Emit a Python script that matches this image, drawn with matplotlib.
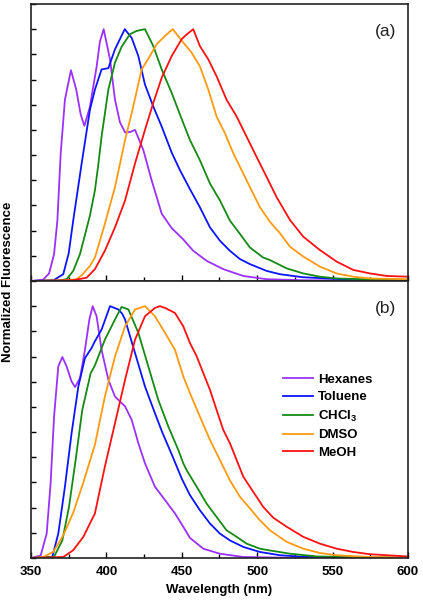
import matplotlib
matplotlib.use("Agg")
import matplotlib.pyplot as plt
from matplotlib.ticker import MultipleLocator

plt.rcParams['font.family'] = ['Liberation Sans', 'DejaVu Sans']
plt.rcParams['mathtext.fontset'] = 'custom'
plt.rcParams['mathtext.rm'] = 'Liberation Sans:bold'
plt.rcParams['mathtext.bf'] = 'Liberation Sans:bold'

labels = ['Hexanes', 'Toluene', 'CHCl$_{3}$', 'DMSO', 'MeOH']
colors = ['#9b30ff', '#0a14ff', '#148a14', '#ff9a10', '#ff1010']

# ---- panel (a) ----
hex_a_wl = [350, 358, 362, 365.3, 367.5, 369.7, 372.5, 376.5, 380, 383, 385.4, 389, 393.5, 395.7, 398.2, 402.4,
            405.7, 409, 412.4, 416, 419, 424.5, 430, 436.7, 443.3, 451, 457.6, 466.5, 477.5, 490.8,
            506.3, 530, 560, 600]
hex_a = [0, 0.005, 0.03, 0.107, 0.24, 0.507, 0.72, 0.837, 0.76, 0.66, 0.616, 0.69, 0.85, 0.95, 1.0, 0.88,
         0.72, 0.63, 0.59, 0.592, 0.6, 0.52, 0.40, 0.267, 0.21, 0.165, 0.12, 0.08, 0.047, 0.02,
         0.007, 0.003, 0.002, 0.002]

tol_a_wl = [350, 365, 371.4, 375, 378, 383.6, 389.1, 392.4, 396.8, 401.3, 405.7, 412.2, 416.8, 421.2, 425.6,
            431.1, 436.7, 443.3, 448.8, 455.4, 462, 468.7, 475.3, 481.9, 488.6, 495.2, 506.3, 515.1, 530, 560, 600]
tol_a = [0, 0.003, 0.027, 0.11, 0.24, 0.467, 0.68, 0.76, 0.84, 0.845, 0.92, 1.0, 0.965, 0.893, 0.78,
         0.693, 0.613, 0.51, 0.44, 0.365, 0.293, 0.213, 0.16, 0.12, 0.087, 0.067, 0.04, 0.027, 0.015, 0.006, 0.003]

chl_a_wl = [350, 368, 373.6, 378, 382.5, 389.1, 392.4, 394.6, 396.8, 401.3, 405.7, 410.1, 415.6, 420.1, 425.6,
            431.1, 436.7, 443.3, 451, 455.4, 462, 468.7, 475.3, 481.9, 488.6, 495.2, 504, 508.5, 519.6, 530.6,
            541.6, 552.7, 575, 600]
chl_a = [0, 0.002, 0.007, 0.04, 0.107, 0.26, 0.36, 0.46, 0.573, 0.76, 0.867, 0.93, 0.98, 0.993, 1.0,
         0.933, 0.84, 0.747, 0.627, 0.56, 0.48, 0.387, 0.32, 0.24, 0.187, 0.133, 0.093, 0.083, 0.05, 0.03,
         0.017, 0.01, 0.006, 0.004]

dmso_a_wl = [350, 372, 380.3, 384, 389.1, 392.4, 399, 405.7, 412.4, 416.8, 423.4, 428.9, 433.3, 438.9, 444,
             451, 456.5, 462, 467.6, 473.1, 478.6, 484.2, 489.7, 495.2, 501.8, 508.5, 515.1, 521.8, 530.6,
             541.6, 552.7, 563.7, 574.8, 600]
dmso_a = [0, 0.002, 0.007, 0.025, 0.06, 0.093, 0.227, 0.373, 0.56, 0.667, 0.84, 0.893, 0.94, 0.973, 1.0,
          0.947, 0.907, 0.853, 0.76, 0.653, 0.587, 0.507, 0.44, 0.373, 0.293, 0.235, 0.19, 0.136, 0.097,
          0.057, 0.03, 0.017, 0.01, 0.007]

meoh_a_wl = [350, 378, 386.9, 392.4, 399, 405.7, 412.4, 419, 425.6, 431.1, 436.7, 443.3, 449.9, 452.5, 457.6,
             462, 467.6, 473.1, 479.7, 486.4, 493, 499.6, 506.3, 512.9, 521.8, 530.6, 541.6, 552.7, 563.7,
             574.8, 585.8, 600]
meoh_a = [0, 0.003, 0.013, 0.047, 0.12, 0.213, 0.32, 0.467, 0.6, 0.707, 0.807, 0.893, 0.96, 0.975, 1.0,
          0.933, 0.88, 0.813, 0.72, 0.653, 0.573, 0.493, 0.413, 0.333, 0.242, 0.176, 0.123, 0.077, 0.044,
          0.03, 0.02, 0.017]

# ---- panel (b) ----
hex_b_wl = [350, 356.4, 360.4, 363, 365.3, 368.1, 370.8, 373.6, 376.9, 379.2, 382.5, 385.8, 388.7, 390.9,
            393.5, 396.8, 401.3, 405.7, 412.4, 416.8, 421.2, 425.6, 432.2, 438.9, 445.5, 451, 455.4, 464.3,
            475.3, 490.8, 520, 600]
hex_b = [0, 0.01, 0.097, 0.296, 0.562, 0.761, 0.798, 0.761, 0.701, 0.679, 0.714, 0.827, 0.947, 1.0,
         0.96, 0.827, 0.708, 0.641, 0.602, 0.548, 0.456, 0.376, 0.283, 0.23, 0.177, 0.124, 0.08, 0.037,
         0.017, 0.004, 0.001, 0]

tol_b_wl = [350, 364.1, 368.1, 372.5, 376.9, 381.4, 385.8, 390.2, 392.4, 396.8, 402.4, 407.9, 410.5, 412.4,
            419, 425.6, 432.2, 437, 444, 450, 455.4, 462, 468.7, 475.3, 481.9, 490.8, 501.8, 515.1,
            530, 600]
tol_b = [0, 0.004, 0.097, 0.283, 0.495, 0.681, 0.794, 0.834, 0.861, 0.907, 1.0, 0.987, 0.97, 0.947,
         0.814, 0.681, 0.575, 0.5, 0.402, 0.315, 0.25, 0.19, 0.137, 0.097, 0.07, 0.044, 0.024, 0.011,
         0.005, 0]

chl_b_wl = [350, 365.2, 370.8, 375.2, 379.6, 384, 389.6, 392.4, 399, 405.7, 410.1, 414.6, 421.2, 427.8,
            434.4, 441.1, 447.7, 451, 453.2, 459.9, 466.5, 473.1, 479.7, 486.4, 493, 501.8, 508.5, 521.8,
            540, 600]
chl_b = [0, 0.004, 0.07, 0.203, 0.389, 0.588, 0.734, 0.765, 0.867, 0.947, 0.997, 0.987, 0.894, 0.761,
         0.628, 0.522, 0.429, 0.376, 0.349, 0.283, 0.216, 0.163, 0.11, 0.084, 0.057, 0.037, 0.03, 0.017,
         0.006, 0]

dmso_b_wl = [350, 358.2, 364.7, 371.4, 378, 384.7, 392.4, 399, 405.7, 412.4, 419, 425.6, 432.2, 438.9,
             445.5, 451, 455.4, 462, 468.7, 475.3, 481.9, 488.6, 495.2, 501.8, 508.5, 519.6, 530.6, 541.6,
             552.7, 575, 600]
dmso_b = [0, 0.004, 0.024, 0.09, 0.18, 0.30, 0.45, 0.641, 0.8, 0.92, 0.987, 1.0, 0.96, 0.894,
          0.827, 0.721, 0.655, 0.562, 0.469, 0.389, 0.309, 0.243, 0.197, 0.15, 0.11, 0.064, 0.037, 0.02,
          0.011, 0.004, 0.002]

meoh_b_wl = [350, 371.4, 378, 384.7, 392.4, 399, 405.7, 412.4, 419, 425.6, 432.2, 435.5, 438.9, 445.5,
             451, 455.4, 459.9, 464.3, 468.7, 473.1, 477.5, 482, 486.4, 490.8, 495.2, 499.6, 504, 510.7,
             519.6, 530.6, 541.6, 552.7, 563.7, 574.8, 600]
meoh_b = [0, 0.004, 0.031, 0.084, 0.177, 0.363, 0.535, 0.708, 0.867, 0.96, 0.993, 1.0, 0.993, 0.973,
          0.92, 0.854, 0.801, 0.734, 0.668, 0.588, 0.509, 0.455, 0.389, 0.323, 0.283, 0.243, 0.203, 0.16,
          0.124, 0.084, 0.057, 0.037, 0.024, 0.015, 0.006]

panel_a = [(hex_a_wl, hex_a), (tol_a_wl, tol_a), (chl_a_wl, chl_a), (dmso_a_wl, dmso_a), (meoh_a_wl, meoh_a)]
panel_b = [(hex_b_wl, hex_b), (tol_b_wl, tol_b), (chl_b_wl, chl_b), (dmso_b_wl, dmso_b), (meoh_b_wl, meoh_b)]

fig = plt.figure(figsize=(4.23, 6.0), dpi=100)
ax_a = fig.add_axes([0.0733, 0.5317, 0.891, 0.4617])
ax_b = fig.add_axes([0.0733, 0.0700, 0.891, 0.4617])

for ax, data, tag in [(ax_a, panel_a, '(a)'), (ax_b, panel_b, '(b)')]:
    for (wl, v), c, lab in zip(data, colors, labels):
        ax.plot(wl, v, color=c, lw=1.3, label=lab)
    ax.set_xlim(350, 600)
    ax.set_ylim(0, 1.1)
    ax.xaxis.set_major_locator(MultipleLocator(50))
    ax.xaxis.set_minor_locator(MultipleLocator(25))
    ax.yaxis.set_major_locator(MultipleLocator(0.1))
    ax.set_yticklabels([])
    ax.tick_params(axis='both', which='major', direction='in', length=4.5, width=1.0,
                   top=False, right=False)
    ax.tick_params(axis='both', which='minor', direction='in', length=3, width=1.0,
                   top=False, right=False)
    ax.tick_params(axis='y', which='major', length=3.8)
    for s in ax.spines.values():
        s.set_linewidth(1.2)
        s.set_color('#222222')
    ax.text(0.94, 0.9, tag, transform=ax.transAxes, fontsize=12.5, ha='center', va='center',
            color='#222222')

ax_a.set_xticklabels([])
for t in ax_b.get_xticklabels():
    t.set_fontweight('bold')
    t.set_fontsize(9.5)
ax_b.tick_params(axis='x', pad=6)
ax_b.set_xlabel('Wavelength (nm)', fontsize=9.5, fontweight='bold', labelpad=4)

fig.text(0.02, 0.53, 'Normalized Fluorescence', rotation=90, ha='center', va='center',
         fontsize=9.5, fontweight='bold')

leg = ax_b.legend(loc='upper left', bbox_to_anchor=(0.668, 0.666), frameon=False,
                  handlelength=2.3, handletextpad=0.35, labelspacing=0.4, borderpad=0,
                  borderaxespad=0, prop={'weight': 'bold', 'size': 9.5})

fig.savefig('out.png', dpi=100)
